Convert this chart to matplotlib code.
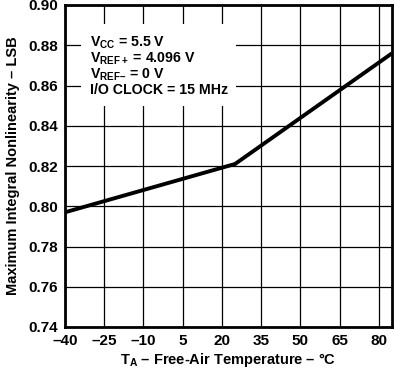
import matplotlib
matplotlib.use("Agg")
import matplotlib.pyplot as plt

temps = [-40, 25, 85]
inl = [0.797, 0.821, 0.876]
xticks = [-40, -25, -10, 5, 20, 35, 50, 65, 80]
yticks = [0.74, 0.76, 0.78, 0.80, 0.82, 0.84, 0.86, 0.88, 0.90]

plt.rcParams['font.family'] = ['Liberation Sans', 'DejaVu Sans']
plt.rcParams['font.weight'] = 'bold'
plt.rcParams['mathtext.fontset'] = 'custom'
plt.rcParams['mathtext.rm'] = 'Liberation Sans:bold'
plt.rcParams['mathtext.bf'] = 'Liberation Sans:bold'
plt.rcParams['mathtext.it'] = 'Liberation Sans:bold'

fig = plt.figure(figsize=(3.94, 3.74), dpi=100)
ax = fig.add_axes([65/394, 1-327/374, 327/394, 322/374])
ax.set_xlim(-40, 85)
ax.set_ylim(0.74, 0.90)
ax.set_xticks(xticks)
ax.set_yticks(yticks)
ax.set_xticklabels([str(t).replace('-', '\u2013') for t in xticks], fontsize=11, fontweight='bold')
ax.set_yticklabels([f"{v:.2f}" for v in yticks], fontsize=11, fontweight='bold')
ax.tick_params(length=0, pad=5)
ax.grid(True, color='black', linewidth=0.9)
ax.set_axisbelow(True)
for s in ax.spines.values():
    s.set_linewidth(2)
ax.plot(temps, inl, color='black', linewidth=2.8, solid_capstyle='butt', zorder=3)

ax.text(-30.5, 0.8855,
        "V$_{\\mathrm{CC}}$ = 5.5 V\nV$_{\\mathrm{REF+}}$ = 4.096 V\nV$_{\\mathrm{REF\u2013}}$ = 0 V\nI/O CLOCK = 15 MHz",
        fontsize=10.2, fontweight='bold', va='top', ha='left', linespacing=1.0,
        bbox=dict(facecolor='white', edgecolor='none', pad=6), zorder=4)

ax.set_xlabel("T$_{\\mathrm{A}}$ \u2013 Free-Air Temperature \u2013 \u00b0C", fontsize=10.5, fontweight='bold', labelpad=2)
ax.set_ylabel("Maximum Integral Nonlinearity \u2013 LSB", fontsize=10.5, fontweight='bold', labelpad=6)
fig.savefig("out.png", dpi=100)
